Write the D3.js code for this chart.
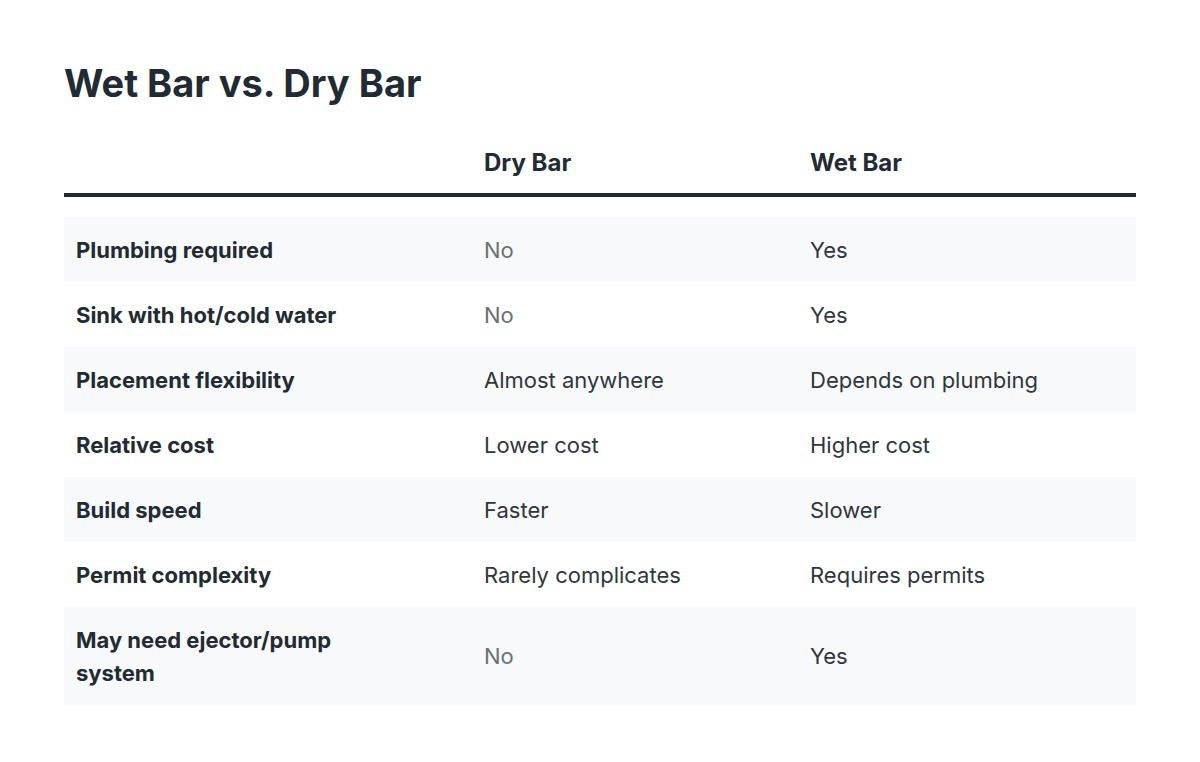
<!DOCTYPE html><html><head><meta charset="utf-8">
<script src="https://cdn.jsdelivr.net/npm/d3@7"></script>
<style>body{margin:0;background:#fff}</style></head><body><svg id="c" width="1200" height="762"></svg>
<script>
const title = "Wet Bar vs. Dry Bar";
const columns = ["", "Dry Bar", "Wet Bar"];
const features = ["Plumbing required","Sink with hot/cold water","Placement flexibility","Relative cost","Build speed","Permit complexity","May need ejector/pump\nsystem"];
const dryBar = ["No","No","Almost anywhere","Lower cost","Faster","Rarely complicates","No"];
const wetBar = ["Yes","Yes","Depends on plumbing","Higher cost","Slower","Requires permits","Yes"];
const rowHeights = [65,65,65,65,65,65,98];

const svg = d3.select("#c");
const F = "Inter, 'Noto Sans', sans-serif";
const dark = "#222a33";
svg.append("text").attr("x",64).attr("y",97).attr("font-family",F).attr("font-size",38).attr("font-weight",700).attr("fill",dark).text(title);
const colX = [76,484,810];
svg.selectAll("text.h").data(columns).join("text").attr("x",(d,i)=>colX[i]).attr("y",171)
 .attr("font-family",F).attr("font-size",24).attr("font-weight",700).attr("fill",dark).text(d=>d);
svg.append("rect").attr("x",64).attr("y",193).attr("width",1072).attr("height",4).attr("fill",dark);
let y=217;
features.forEach((f,i)=>{
  const h=rowHeights[i], cy=y+h/2;
  if(i%2===0) svg.append("rect").attr("x",64).attr("y",y).attr("width",1072).attr("height",h).attr("fill","#f8f9fa");
  const lines=f.split("\n");
  const t=svg.append("text").attr("font-family",F).attr("font-size",22).attr("font-weight",700).attr("fill",dark);
  lines.forEach((l,k)=>t.append("tspan").attr("x",76).attr("y",cy+8+(k-(lines.length-1)/2)*33).text(l));
  const vals=[dryBar[i],wetBar[i]];
  vals.forEach((v,k)=>svg.append("text").attr("x",colX[k+1]).attr("y",cy+8).attr("font-family",F).attr("font-size",22)
    .attr("fill", v==="No"?"#6b7075":"#2f363d").text(v));
  y+=h;
});
</script></body></html>
